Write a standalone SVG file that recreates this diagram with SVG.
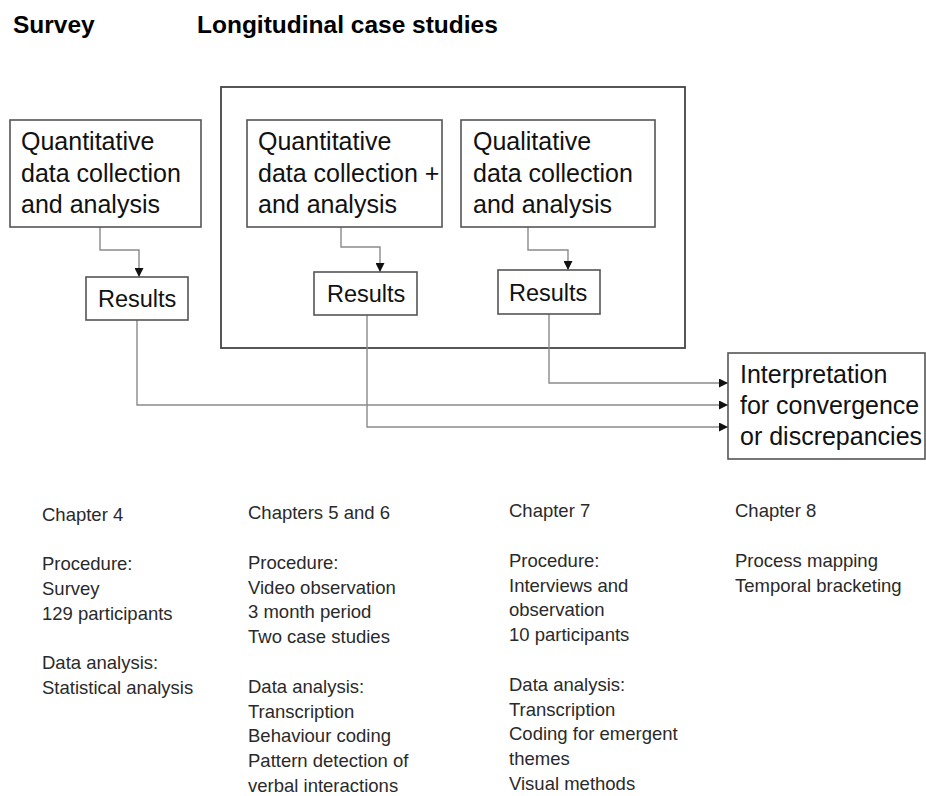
<svg xmlns="http://www.w3.org/2000/svg" width="926" height="796" viewBox="0 0 926 796">
  <defs>
    <marker id="arrow" viewBox="0 0 10 10" refX="10" refY="5" markerWidth="9" markerHeight="9" markerUnits="userSpaceOnUse" orient="auto">
      <path d="M0,0 L10,5 L0,10 Z" fill="#111"/>
    </marker>
  </defs>
  <style>
    .box { fill: #fff; stroke: #555; stroke-width: 1.6; }
    .frame { fill: none; stroke: #444; stroke-width: 1.8; }
    .wire { fill: none; stroke: #8a8a8a; stroke-width: 1.4; marker-end: url(#arrow); }
    .head { font-family: "Liberation Sans", Arial, sans-serif; font-weight: bold; font-size: 24.5px; fill: #000; }
    .lbl { font-family: "Liberation Sans", Arial, sans-serif; font-size: 25px; fill: #111; }
    .res { font-family: "Liberation Sans", Arial, sans-serif; font-size: 23.5px; fill: #111; }
    .note { font-family: "Liberation Sans", Arial, sans-serif; font-size: 18.5px; fill: #2a2a2a; }
  </style>
  <rect width="926" height="796" fill="#fff"/>

  <!-- column headings -->
  <g id="heading-survey"><text class="head" x="13" y="33">Survey</text></g>
  <g id="heading-case-studies"><text class="head" x="197" y="33">Longitudinal case studies</text></g>

  <!-- frame around the case-study strand -->
  <g id="case-frame"><rect class="frame" x="221" y="87" width="464" height="261"/></g>

  <!-- connectors -->
  <g id="connectors">
    <path class="wire" d="M100,227 V250 H139 V277"/>
    <path class="wire" d="M341,227 V247 H380 V272"/>
    <path class="wire" d="M528,227 V250 H568 V270"/>
    <path class="wire" d="M549,314 V383 H728"/>
    <path class="wire" d="M137,320 V405 H728"/>
    <path class="wire" d="M367,315 V427 H728"/>
  </g>

  <!-- survey strand -->
  <g id="survey-quant">
    <rect class="box" x="10" y="120" width="191" height="107"/>
    <text class="lbl" x="21" y="150">Quantitative</text>
    <text class="lbl" x="21" y="182">data collection</text>
    <text class="lbl" x="21" y="213">and analysis</text>
  </g>
  <g id="survey-results">
    <rect class="box" x="86" y="277" width="102" height="43"/>
    <text class="res" x="98" y="307">Results</text>
  </g>

  <!-- case-study strand -->
  <g id="case-quant">
    <rect class="box" x="247" y="120" width="195" height="107"/>
    <text class="lbl" x="258" y="150">Quantitative</text>
    <text class="lbl" x="258" y="182">data collection +</text>
    <text class="lbl" x="258" y="213">and analysis</text>
  </g>
  <g id="case-quant-results">
    <rect class="box" x="314" y="272" width="103" height="43"/>
    <text class="res" x="327" y="302">Results</text>
  </g>
  <g id="case-qual">
    <rect class="box" x="461" y="120" width="194" height="107"/>
    <text class="lbl" x="473" y="150">Qualitative</text>
    <text class="lbl" x="473" y="182">data collection</text>
    <text class="lbl" x="473" y="213">and analysis</text>
  </g>
  <g id="case-qual-results">
    <rect class="box" x="498" y="270" width="102" height="44"/>
    <text class="res" x="509" y="301">Results</text>
  </g>

  <!-- merge step -->
  <g id="interpretation">
    <rect class="box" x="728" y="353" width="197" height="106"/>
    <text class="lbl" x="740" y="383">Interpretation</text>
    <text class="lbl" x="740" y="414">for convergence</text>
    <text class="lbl" x="740" y="445">or discrepancies</text>
  </g>

  <!-- chapter notes -->
  <g id="notes-ch4">
    <text class="note" x="42" y="521">Chapter 4</text>
    <text class="note" x="42" y="570">Procedure:</text>
    <text class="note" x="42" y="595">Survey</text>
    <text class="note" x="42" y="620">129 participants</text>
    <text class="note" x="42" y="669">Data analysis:</text>
    <text class="note" x="42" y="694">Statistical analysis</text>
  </g>
  <g id="notes-ch5-6">
    <text class="note" x="248" y="519">Chapters 5 and 6</text>
    <text class="note" x="248" y="569">Procedure:</text>
    <text class="note" x="248" y="594">Video observation</text>
    <text class="note" x="248" y="618">3 month period</text>
    <text class="note" x="248" y="643">Two case studies</text>
    <text class="note" x="248" y="693">Data analysis:</text>
    <text class="note" x="248" y="718">Transcription</text>
    <text class="note" x="248" y="742">Behaviour coding</text>
    <text class="note" x="248" y="767">Pattern detection of</text>
    <text class="note" x="248" y="792">verbal interactions</text>
  </g>
  <g id="notes-ch7">
    <text class="note" x="509" y="517">Chapter 7</text>
    <text class="note" x="509" y="567">Procedure:</text>
    <text class="note" x="509" y="592">Interviews and</text>
    <text class="note" x="509" y="616">observation</text>
    <text class="note" x="509" y="641">10 participants</text>
    <text class="note" x="509" y="691">Data analysis:</text>
    <text class="note" x="509" y="716">Transcription</text>
    <text class="note" x="509" y="740">Coding for emergent</text>
    <text class="note" x="509" y="765">themes</text>
    <text class="note" x="509" y="790">Visual methods</text>
  </g>
  <g id="notes-ch8">
    <text class="note" x="735" y="517">Chapter 8</text>
    <text class="note" x="735" y="567">Process mapping</text>
    <text class="note" x="735" y="592">Temporal bracketing</text>
  </g>
</svg>
